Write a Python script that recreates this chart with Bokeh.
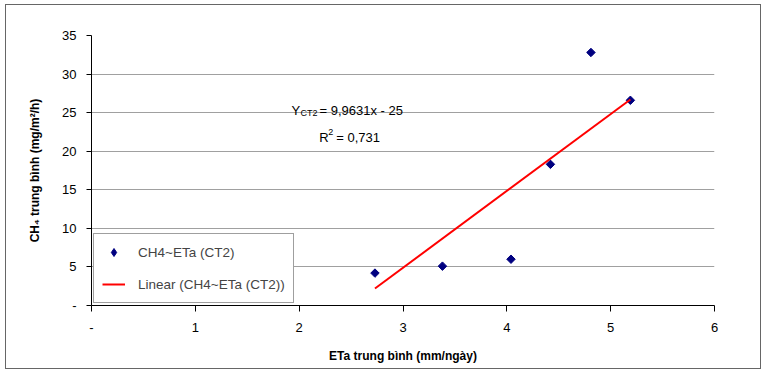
from bokeh.plotting import figure
from bokeh.models import FixedTicker, Label, Legend, LegendItem
from bokeh.embed import file_html
from bokeh.resources import INLINE
import math

# Measured means per treatment (CT2)
eta = [2.73, 3.38, 4.04, 4.42, 4.81, 5.19]      # ETa trung bình (mm/ngày)
ch4 = [4.2, 5.1, 6.0, 18.3, 32.8, 26.6]         # CH4 trung bình (mg/m2/h)

# Linear fit as reported
slope = 9.9631
intercept = -25.0
r2 = 0.731

x_ticks = [0, 1, 2, 3, 4, 5, 6]
y_ticks = [0, 5, 10, 15, 20, 25, 30, 35]

SANS = "Liberation Sans"
NAVY = "#000080"

p = figure(width=756, height=365, output_backend="svg", toolbar_location=None,
           x_range=(0, 6), y_range=(0, 35),
           min_border_left=85, min_border_right=48, min_border_top=30, min_border_bottom=65)
p.margin = (4, 0, 0, 5)
p.styles = {"border": "1px solid #666666"}
p.background_fill_color = "white"
p.border_fill_color = "white"
p.outline_line_color = None

# axes
p.xaxis.ticker = FixedTicker(ticks=x_ticks)
p.yaxis.ticker = FixedTicker(ticks=y_ticks)
p.xaxis.major_label_overrides = {0: "-"}
p.yaxis.major_label_overrides = {0: "-"}
for ax in (p.xaxis[0], p.yaxis[0]):
    ax.axis_line_color = "black"
    ax.major_tick_line_color = "black"
    ax.minor_tick_line_color = None
    ax.major_tick_in = 0
    ax.major_label_text_font = SANS
    ax.major_label_text_font_size = "13px"
    ax.major_label_text_color = "black"
    ax.axis_label_text_font = SANS
    ax.axis_label_text_font_size = "12px"
    ax.axis_label_text_font_style = "bold"
    ax.axis_label_text_color = "black"
p.xaxis.major_tick_out = 6
p.yaxis.major_tick_out = 5
p.xaxis.major_label_standoff = 11
p.yaxis.major_label_standoff = 10
p.xaxis.axis_label = "ETa trung bình (mm/ngày)"
p.yaxis.axis_label = "CH₄ trung bình (mg/m²/h)"
p.xaxis.axis_label_standoff = 14
p.yaxis.axis_label_standoff = 17

p.xgrid.grid_line_color = None
p.ygrid.grid_line_color = "#a0a0a0"
p.ygrid.grid_line_width = 1

# data points as small diamonds (rotated squares)
p.scatter(eta, ch4, marker="square", size=6, angle=math.pi / 4,
          fill_color=NAVY, line_color=NAVY)
# legend swatch for the points
pts_key = p.scatter([float("nan")], [float("nan")], marker="diamond", size=9,
                    fill_color=NAVY, line_color=NAVY)

# trend line from the reported fit
x_fit = [min(eta), max(eta)]
y_fit = [slope * v + intercept for v in x_fit]
ln = p.line(x_fit, y_fit, line_color="#ff0000", line_width=2)

legend = Legend(items=[LegendItem(label="CH4~ETa (CT2)", renderers=[pts_key]),
                       LegendItem(label="Linear (CH4~ETa (CT2))", renderers=[ln])],
                location=(2, 2), margin=0, padding=8, spacing=12,
                glyph_width=23, glyph_height=20, label_standoff=13,
                label_text_font=SANS, label_text_font_size="13.5px",
                border_line_color="#404040", border_line_width=1,
                background_fill_color="white", background_fill_alpha=1)
p.add_layout(legend, "center")

# equation
def note(x, y, text, dx=0, dy=0, size="13px"):
    p.add_layout(Label(x=x, y=y, x_offset=dx, y_offset=dy, text=text, text_font=SANS,
                       text_font_size=size, text_color="black", text_baseline="alphabetic"))

eq_x, eq_y = 1.926, 25.28
note(eq_x, eq_y, "Y")
note(eq_x, eq_y, "CT2", dx=9, dy=-3, size="9px")
note(eq_x, eq_y, f"= {slope:.4f}x - {abs(intercept):.0f}".replace(".", ","), dx=28)
r_x, r_y = 2.194, 21.78
note(r_x, r_y, "R")
note(r_x, r_y, "2", dx=9, dy=5, size="9px")
note(r_x, r_y, f"= {r2:.3f}".replace(".", ","), dx=17)

open("out.html", "w").write(file_html(p, INLINE))
